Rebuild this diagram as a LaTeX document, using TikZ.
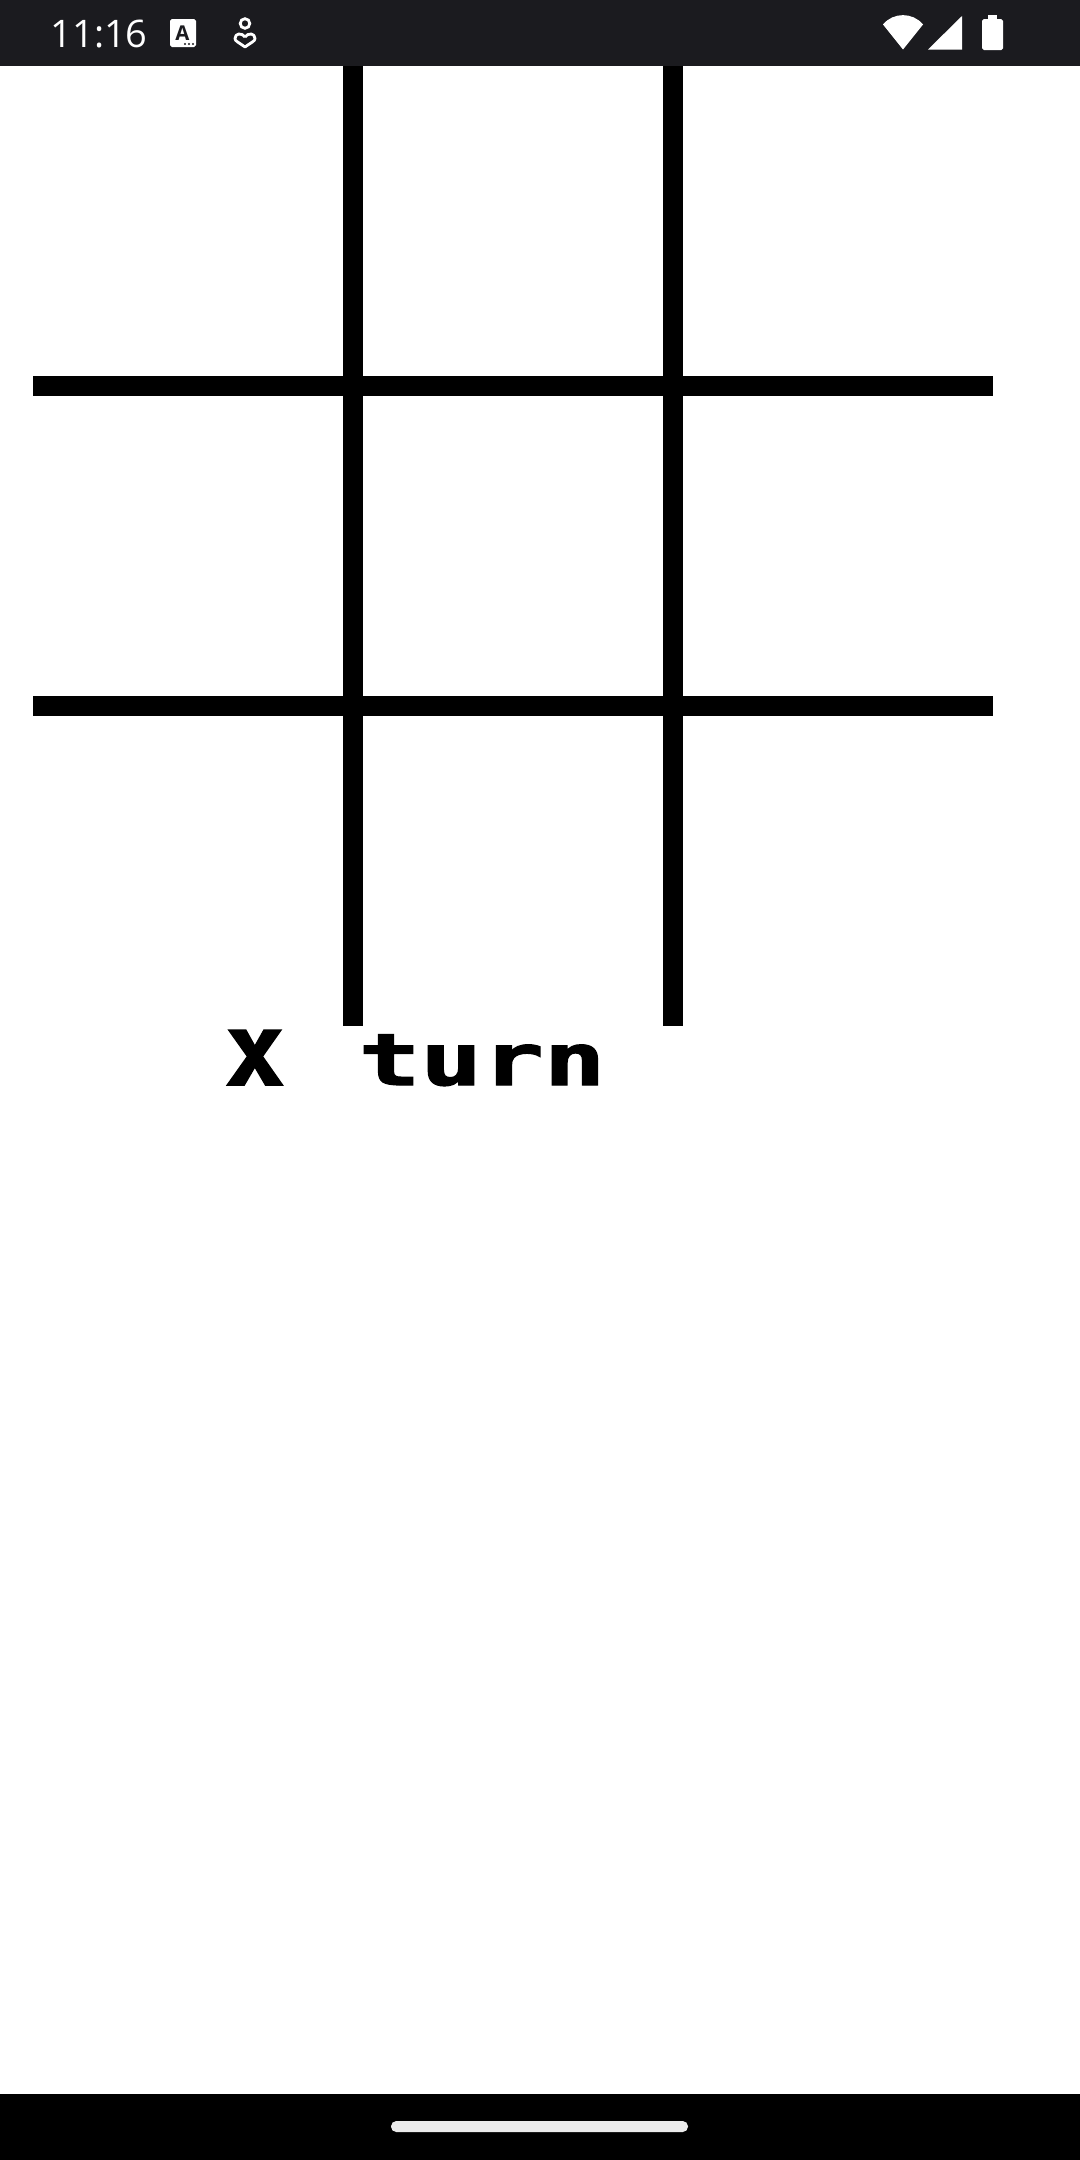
\documentclass[tikz,border=0pt]{standalone}
\usepackage{fontspec}
\setmainfont{Open Sans}
\newfontfamily\blockfont[FakeBold=1.6]{DejaVu Sans Mono Bold}
\definecolor{barcolor}{HTML}{1B1B1F}
\definecolor{pillcolor}{HTML}{EBEBEB}
\tikzset{
	gridline/.style={fill=black},
	icon/.style={fill=white, draw=none},
	iconline/.style={draw=white, line width=0.8pt},
}

\begin{document}
\begin{tikzpicture}[x=0.01cm, y=-0.01cm]
	%%%%% START %%%%%
	\useasboundingbox (0, 0) rectangle (1080, 2160);
	\fill[white] (0, 0) rectangle (1080, 2160);

	% status bar
	\fill[barcolor] (0, 0) rectangle (1080, 66);
	\node[white, anchor=base west, inner sep=0pt] (clock) at (50, 47.5) {\fontsize{10.8}{12}\selectfont 11:16};

	\fill[icon, rounded corners=0.5pt] (170, 19) rectangle (196, 47);
	\node[barcolor, inner sep=0pt, anchor=base] (aicon) at (182.5, 40) {\fontsize{5.8}{6}\selectfont\bfseries A};
	\foreach \dotx in {185, 189, 193}
		\fill[barcolor] (\dotx, 44) circle (1.2);

	\draw[iconline] (245, 23.5) circle (4.8);
	\draw[iconline, line join=round] (245, 37) .. controls (242, 32.5) and (235, 33) .. (235, 38.5) .. controls (235, 41) and (238, 42) .. (245, 47) .. controls (252, 42) and (255, 41) .. (255, 38.5) .. controls (255, 33) and (248, 32.5) .. (245, 37);

	\fill[icon] (903, 49.5) -- (883, 24.5) .. controls (893, 12) and (913, 12) .. (923, 24.5) -- cycle;
	\fill[icon] (928, 49.5) -- (962, 16) -- (962, 49.5) -- cycle;
	\fill[icon, rounded corners=0.5pt] (982, 19) rectangle (1003, 50);
	\fill[icon] (988, 15) rectangle (997, 20);

	% board
	\foreach \linex in {343, 663}
		\fill[gridline] (\linex, 66) rectangle ++(20, 960);
	\foreach \liney in {376, 696}
		\fill[gridline] (33, \liney) rectangle ++(960, 20);

	% turn text
	\node[anchor=base west, inner sep=0pt] (turnlabel) at (224, 1085) {\blockfont\fontsize{28.5}{30}\selectfont x\hspace{21pt}\fontsize{20.5}{22}\selectfont\scalebox{1.42}[1]{turn}};

	% navigation bar
	\fill[black] (0, 2094) rectangle (1080, 2160);
	\fill[pillcolor, rounded corners=1.5pt] (391, 2121) rectangle (688, 2132);
	%%%%% END %%%%%
\end{tikzpicture}
\end{document}
